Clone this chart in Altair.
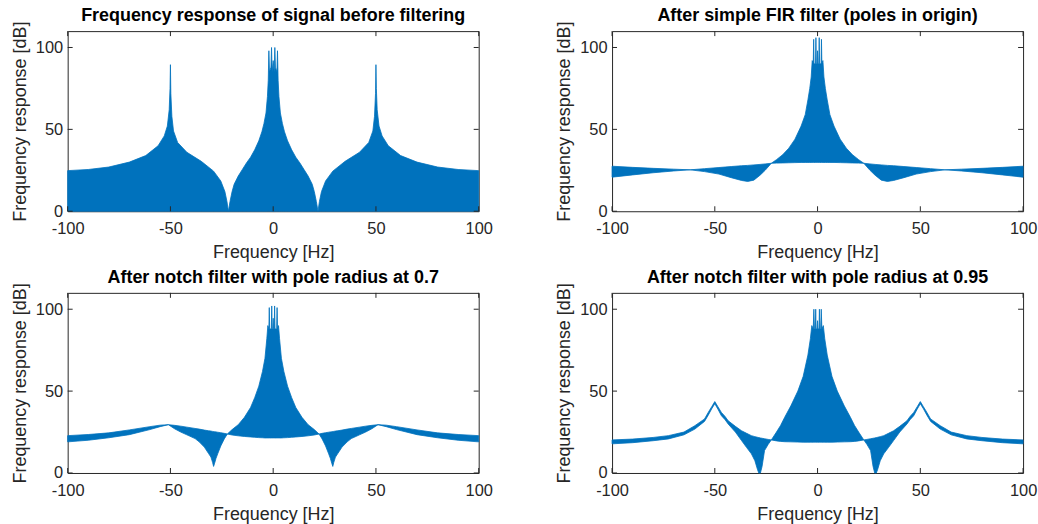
import altair as alt
import pandas as pd

TITLES = [
    "Frequency response of signal before filtering",
    "After simple FIR filter (poles in origin)",
    "After notch filter with pole radius at 0.7",
    "After notch filter with pole radius at 0.95",
]
X_TICKS = [-100, -50, 0, 50, 100]
Y_TICKS = [0, 50, 100]

# Panel 1: before filtering (band from 0 up to envelope)
F1 = [-100, -90, -80, -70, -62, -56, -53, -51.5, -50.6, -50.2,
      -50, -49.8, -49.3, -48.5, -46.5, -42, -35, -29, -25.5, -23.5,
      -22.5, -21.8, -21, -20, -19, -17, -15, -13, -11, -9,
      -7, -5.5, -4.5, -3.5, -2.8, -2.4, -2.1, -1.8, -1.1, -0.8,
      -0.5, 0,
      0.5, 0.8, 1.1, 1.8, 2.1, 2.4, 2.8, 3.5,
      4.5, 5.5, 7, 9, 11, 13, 15, 17, 19, 20,
      21, 21.8, 22.5, 23.5, 25.5, 29, 35, 42, 46.5, 48.5,
      49.3, 49.8, 50, 50.2, 50.6, 51.5, 53, 56, 62, 70,
      80, 90, 100]
U1 = [24.8, 25.5, 27, 30, 34, 40, 46, 52, 62, 75,
      89.5, 72, 58, 49, 42, 36, 30.5, 24.5, 18.5, 12,
      6, 0, 6, 12, 16.5, 21.5, 25.5, 29.5, 33, 37.5,
      43, 48.5, 53.5, 60, 70, 80, 98, 85, 88, 100,
      85, 92,
      85, 100, 88, 85, 98, 80, 70, 60,
      53.5, 48.5, 43, 37.5, 33, 29.5, 25.5, 21.5, 16.5, 12,
      6, 0, 6, 12, 18.5, 24.5, 30.5, 36, 42, 49,
      58, 72, 89.5, 75, 62, 52, 46, 40, 34, 30,
      27, 25.5, 24.8]
L1 = [0] * len(F1)

# Panel 2: simple FIR filter
F2 = [-100, -90, -80, -70, -62, -55, -48, -42, -37, -34,
      -31, -28, -25.5, -22.5, -20, -17, -14, -11, -8, -6,
      -4.7, -3.8, -3.1, -2.6, -2.1, -1.9, -1.7, -1.0, -0.8, -0.6,
      -0.2, 0,
      0.2, 0.6, 0.8, 1.0, 1.7, 1.9, 2.1, 2.6,
      3.1, 3.8, 4.7, 6, 8, 11, 14, 17, 20, 22.5,
      25.5, 28, 31, 34, 37, 42, 48, 55, 62, 70,
      80, 90, 100]
U2 = [27.5, 26.8, 26.2, 25.7, 25.3, 26, 26.7, 27.3, 27.8, 28,
      28.3, 28.6, 28.9, 29.3, 31.5, 34.5, 38.5, 44, 52, 59,
      68, 75, 82, 92, 90, 105, 90, 90, 106, 90,
      90, 98,
      90, 90, 106, 90, 90, 105, 90, 92,
      82, 75, 68, 59, 52, 44, 38.5, 34.5, 31.5, 29.3,
      28.9, 28.6, 28.3, 28, 27.8, 27.3, 26.7, 26, 25.3, 25.7,
      26.2, 26.8, 27.5]
L2 = [20.8, 22.2, 23.5, 24.6, 25.3, 24.2, 22.7, 20.5, 18.8, 18.2,
      19, 22, 25, 29.3, 29.4, 29.5, 29.6, 29.7, 29.8, 29.8,
      29.8, 29.8, 29.8, 29.8, 29.8, 29.8, 29.8, 29.8, 29.8, 29.8,
      29.8, 29.8,
      29.8, 29.8, 29.8, 29.8, 29.8, 29.8, 29.8, 29.8,
      29.8, 29.8, 29.8, 29.8, 29.8, 29.7, 29.6, 29.5, 29.4, 29.3,
      25, 22, 19, 18.2, 18.8, 20.5, 22.7, 24.2, 25.3, 24.6,
      23.5, 22.2, 20.8]

# Panel 3: notch filter, pole radius 0.7
F3 = [-100, -90, -80, -70, -60, -55, -51, -48, -45, -42,
      -38, -36, -33.5, -31.5, -30.3, -29.5, -29, -28.5, -27.8, -27,
      -25.5, -23.8, -22.3, -20, -17, -14, -11, -9, -7, -5.2,
      -4, -3.1, -2.6, -2.1, -1.9, -1.7, -0.9, -0.7, -0.5, -0.2,
      0,
      0.2, 0.5, 0.7, 0.9, 1.7, 1.9, 2.1, 2.6, 3.1, 4,
      5.2, 7, 9, 11, 14, 17, 20, 22.3, 23.8, 25.5,
      27, 27.8, 28.5, 29, 29.5, 30.3, 31.5, 33.5, 36, 38,
      42, 45, 48, 51, 55, 60, 70, 80, 90, 100]
U3 = [22.8, 23.5, 24.5, 26.3, 28.3, 29.2, 29.5, 29.1, 28.6, 28,
      27.2, 26.8, 26.2, 25.8, 25.6, 25.4, 25.3, 25.2, 25.1, 24.9,
      24.6, 24.2, 23.8, 26.5, 29.5, 34, 40, 46, 53, 62,
      70, 82, 90, 88, 101, 88, 88, 102, 88, 88,
      94.5,
      88, 88, 102, 88, 88, 101, 88, 90, 82, 70,
      62, 53, 46, 40, 34, 29.5, 26.5, 23.8, 24.2, 24.6,
      24.9, 25.1, 25.2, 25.3, 25.4, 25.6, 25.8, 26.2, 26.8, 27.2,
      28, 28.6, 29.1, 29.5, 29.2, 28.3, 26.3, 24.5, 23.5, 22.8]
L3 = [19, 20, 21.5, 23.4, 26.5, 28.3, 29.5, 27, 25, 23.3,
      21, 19, 15.8, 12, 9.7, 6.5, 4, 6, 9, 11.7,
      16.5, 20.8, 23.8, 23.2, 22.7, 22.3, 22, 21.8, 21.6, 21.5,
      21.4, 21.4, 21.4, 21.4, 21.4, 21.4, 21.4, 21.4, 21.4, 21.4,
      21.4,
      21.4, 21.4, 21.4, 21.4, 21.4, 21.4, 21.4, 21.4, 21.4, 21.4,
      21.5, 21.6, 21.8, 22, 22.3, 22.7, 23.2, 23.8, 20.8, 16.5,
      11.7, 9, 6, 4, 6.5, 9.7, 12, 15.8, 19, 21,
      23.3, 25, 27, 29.5, 28.3, 26.5, 23.4, 21.5, 20, 19]

# Panel 4: notch filter, pole radius 0.95
F4 = [-100, -90, -80, -72.6, -65, -59.7, -55, -53.2, -51.5, -50,
      -48.5, -46.8, -45, -43.5, -40, -37, -34.5, -32.2, -30.5, -29.2,
      -28.6, -27.8, -27, -25.8, -24, -22.5, -20, -18, -16, -13,
      -9.6, -7, -4.7, -3.5, -2.8, -2.1, -1.8, -1.5, -1.1, -0.9,
      -0.7, -0.2,
      0,
      0.2, 0.7,
      0.9, 1.1, 1.5, 1.8, 2.1, 2.8, 3.5, 4.7, 7, 9.6,
      13, 16, 18, 20, 22.5, 24, 25.8, 27, 27.8, 28.6,
      29.2, 30.5, 32.2, 34.5, 37, 40, 43.5, 45, 46.8, 48.5,
      50, 51.5, 53.2, 55, 59.7, 65, 72.6, 80, 90, 100]
U4 = [20.2, 20.7, 21.7, 22.8, 25, 28.9, 33, 37, 40.5, 43.6,
      40.5, 37, 34.5, 31.9, 28.5, 25.8, 24.2, 22.8, 22.2, 21.8,
      21.6, 21.4, 21.2, 20.9, 20.5, 20.2, 25, 29, 34, 41,
      50, 59, 72, 82, 90, 88, 100, 88, 88, 100,
      88, 88,
      93,
      88, 88,
      100, 88, 88, 100, 88, 90, 82, 72, 59, 50,
      41, 34, 29, 25, 20.2, 20.5, 20.9, 21.2, 21.4, 21.6,
      21.8, 22.2, 22.8, 24.2, 25.8, 28.5, 31.9, 34.5, 37, 40.5,
      43.6, 40.5, 37, 33, 28.9, 25, 22.8, 21.7, 20.7, 20.2]
L4 = [17.8, 18.5, 19.7, 20.8, 23.3, 26.8, 31.5, 35.3, 39.2, 42.3,
      39, 35, 32.5, 29.9, 25, 19.8, 15.5, 11.7, 7.5, 2,
      0, 0, 4, 13.7, 17.5, 20.2, 19.6, 19.3, 19.1, 19,
      18.9, 18.8, 18.8, 18.8, 18.8, 18.8, 18.8, 18.8, 18.8, 18.8,
      18.8, 18.8,
      18.8,
      18.8, 18.8,
      18.8, 18.8, 18.8, 18.8, 18.8, 18.8, 18.8, 18.8, 18.8, 18.9,
      19, 19.1, 19.3, 19.6, 20.2, 17.5, 13.7, 4, 0, 0,
      2, 7.5, 11.7, 15.5, 19.8, 25, 29.9, 32.5, 35, 39,
      42.3, 39.2, 35.3, 31.5, 26.8, 23.3, 20.8, 19.7, 18.5, 17.8]

BLUE = "#0072BD"
AXC = "#262626"
FONT = "Liberation Sans"
W, H = 413, 181
TL = 5

xs = alt.Scale(domain=[-100, 100], nice=False, zero=False)
ys = alt.Scale(domain=[0, 110], nice=False, zero=False)
XAX = alt.Axis(values=X_TICKS, title="Frequency [Hz]", labelExpr="'' + datum.value",
               labelFlush=False, labelOverlap=False, labelPadding=9.5, titlePadding=6.5)
YAX = alt.Axis(values=Y_TICKS, title="Frequency response [dB]", labelExpr="'' + datum.value",
               labelFlush=False, labelOverlap=False, labelPadding=5, titlePadding=6)


def panel(title, f, up, lo):
    df = pd.DataFrame({"f": f, "up": up, "lo": lo})
    area = alt.Chart(df).mark_area(
        color=BLUE, opacity=1, stroke=BLUE, strokeWidth=0.8, interpolate="linear"
    ).encode(
        x=alt.X("f:Q", scale=xs, axis=XAX),
        y=alt.Y("up:Q", scale=ys, axis=YAX),
        y2="lo:Q",
    )
    xt = pd.DataFrame({"f": X_TICKS})
    yt = pd.DataFrame({"up": Y_TICKS})
    xb = alt.Chart(xt).mark_rule(color=AXC, strokeWidth=1).encode(
        x=alt.X("f:Q", scale=xs, axis=XAX), y=alt.value(H), y2=alt.value(H - TL))
    xtop = alt.Chart(xt).mark_rule(color=AXC, strokeWidth=1).encode(
        x=alt.X("f:Q", scale=xs, axis=XAX), y=alt.value(0), y2=alt.value(TL))
    yl = alt.Chart(yt).mark_rule(color=AXC, strokeWidth=1).encode(
        y=alt.Y("up:Q", scale=ys, axis=YAX), x=alt.value(0), x2=alt.value(TL))
    yr = alt.Chart(yt).mark_rule(color=AXC, strokeWidth=1).encode(
        y=alt.Y("up:Q", scale=ys, axis=YAX), x=alt.value(W), x2=alt.value(W - TL))
    return alt.layer(area, xb, xtop, yl, yr).properties(
        width=W, height=H,
        title=alt.TitleParams(title, fontSize=18, fontWeight="bold", font=FONT,
                              color="#000000", offset=-4, anchor="middle"),
    )


p1 = panel(TITLES[0], F1, U1, L1)
p2 = panel(TITLES[1], F2, U2, L2)
p3 = panel(TITLES[2], F3, U3, L3)
p4 = panel(TITLES[3], F4, U4, L4)

chart = alt.vconcat(
    alt.hconcat(p1, p2, spacing=61),
    alt.hconcat(p3, p4, spacing=61),
    spacing=6,
).properties(
    padding={"left": 10, "top": 5, "right": 0, "bottom": 0},
    background="white",
).configure_view(
    stroke=AXC, strokeWidth=1, fill="white"
).configure_axis(
    grid=False, domain=False, ticks=False, labelFont=FONT, labelFontSize=16.5,
    labelColor=AXC, titleFont=FONT, titleFontSize=18, titleFontWeight="normal",
    titleColor=AXC,
)

chart.save("out.html", embed_options={"renderer": "svg", "actions": False})
